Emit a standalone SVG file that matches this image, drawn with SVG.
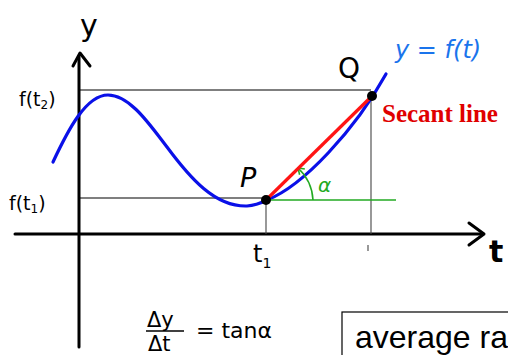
<svg xmlns="http://www.w3.org/2000/svg" width="508" height="355" viewBox="0 0 508 355">
<defs>
<style>
.axis{stroke:#000;stroke-width:3;fill:none;stroke-linecap:round;stroke-linejoin:round}
.guide{stroke:#000;stroke-width:1.2;fill:none}
.vguide{stroke:#444;stroke-width:1.1;fill:none}
.hand{font-family:"DejaVu Sans","Liberation Sans",sans-serif;fill:#000}
.dot{fill:#000}
</style>
<marker id="garrow" viewBox="0 0 10 10" refX="8" refY="5" markerWidth="6" markerHeight="6" orient="auto" markerUnits="strokeWidth">
<path d="M2,1 L8,5 L2,9" fill="none" stroke="#22aa22" stroke-width="1.6"/>
</marker>
</defs>
<rect width="508" height="355" fill="#fff"/>
<g id="axes">
<line class="axis" x1="79" y1="56" x2="79" y2="347"/>
<polyline class="axis" points="73,66 80,53 90,66"/>
<line class="axis" x1="15" y1="234" x2="481" y2="234"/>
<polyline class="axis" points="469,223 484,234 469,245"/>
</g>
<g id="guides">
<line class="guide" x1="79" y1="90" x2="371" y2="90"/>
<line class="guide" x1="79" y1="198" x2="266" y2="198"/>
<line class="vguide" x1="266" y1="200" x2="266" y2="234"/>
<line class="vguide" x1="371" y1="96" x2="371" y2="234"/>
<line class="vguide" x1="368" y1="245" x2="368" y2="251"/>
</g>
<g id="curve">
<path d="M53,162 C68,130 86,95 108,95 C130,95 150,125 167,147 C190,178 215,207 247,206 C256,205.5 261,203 267,200 C303,186 355,130 386,74" fill="none" stroke="#0a10e8" stroke-width="3.2" stroke-linecap="round"/>
</g>
<g id="angle">
<line x1="266" y1="200" x2="396" y2="200" stroke="#22aa22" stroke-width="1.6"/>
<path d="M313,200 A47,47 0 0 0 298,168" fill="none" stroke="#22aa22" stroke-width="1.6" marker-end="url(#garrow)"/>
<text x="318" y="192" font-family="DejaVu Sans, sans-serif" font-size="20" fill="#22aa22" font-style="italic">α</text>
</g>
<g id="secant">
<line x1="266" y1="200" x2="372" y2="96" stroke="#ff1414" stroke-width="3.2"/>
</g>
<g id="points">
<circle id="P" class="dot" cx="266" cy="200" r="5"/>
<circle id="Q" class="dot" cx="372" cy="96" r="5"/>
</g>
<g id="labels">
<text class="hand" x="80" y="36" font-size="30">y</text>
<text class="hand" x="19" y="106" font-size="19">f(t<tspan font-size="12" dy="3">2</tspan><tspan dy="-3">)</tspan></text>
<text class="hand" x="9" y="210" font-size="19">f(t<tspan font-size="12" dy="3">1</tspan><tspan dy="-3">)</tspan></text>
<text class="hand" x="240" y="187" font-size="27" font-style="italic">P</text>
<text class="hand" x="338" y="78" font-size="28">Q</text>
<text x="395" y="58" font-family="DejaVu Sans, sans-serif" font-size="24" font-style="italic" fill="#1a74ec">y = f(t)</text>
<text x="382" y="122" font-family="Liberation Serif, serif" font-size="25" font-weight="bold" fill="#e00000">Secant line</text>
<text class="hand" x="253" y="262" font-size="24">t<tspan font-size="14" dy="6">1</tspan></text>
<text class="hand" x="489" y="262" font-size="30" font-weight="bold">t</text>
</g>
<g id="formula">
<text class="hand" x="147" y="327" font-size="21">Δy</text>
<line x1="146" y1="331" x2="184" y2="331" stroke="#000" stroke-width="1.4"/>
<text class="hand" x="148" y="351" font-size="21">Δt</text>
<text class="hand" x="196" y="338" font-size="22">= tanα</text>
</g>
<g id="box">
<rect x="342" y="312" width="180" height="60" fill="#fff" stroke="#000" stroke-width="1.2"/>
<text x="355" y="348" font-family="Liberation Sans, Arial, sans-serif" font-size="32" fill="#000">average ra</text>
</g>
</svg>
